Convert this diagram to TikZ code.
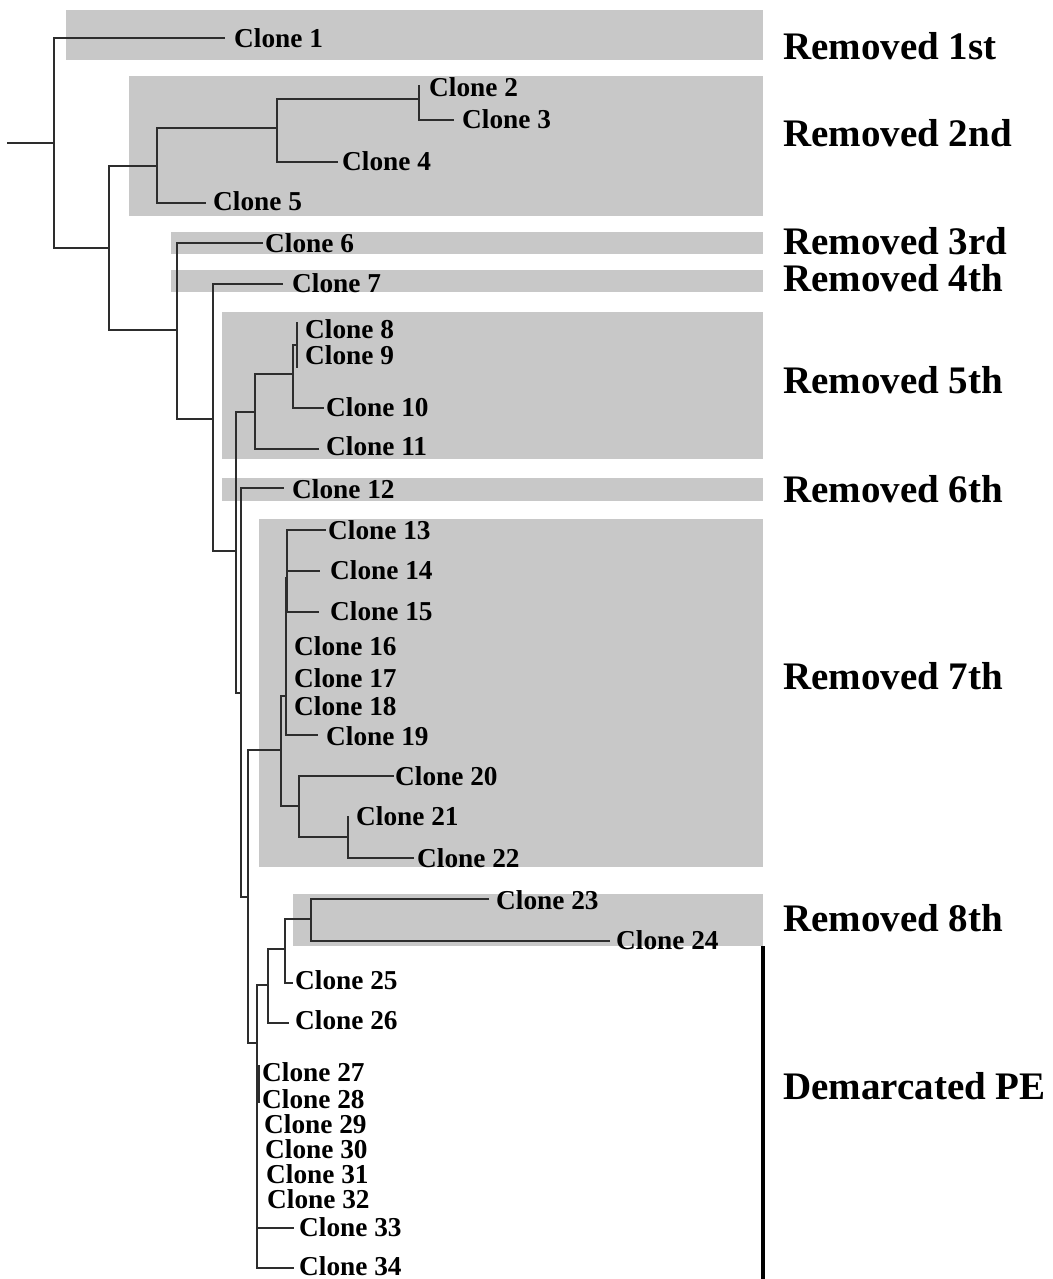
\documentclass[tikz,border=0pt]{standalone}
\usepackage{fontspec}
\setmainfont{Liberation Serif}
\definecolor{boxgray}{RGB}{200,200,200}
\definecolor{treeline}{RGB}{45,45,45}
\begin{document}
\begin{tikzpicture}[x=1pt,y=-1pt,
  tree/.style={line width=1.9pt, draw=treeline, line cap=rect},
  clone/.style={font=\fontsize{27.3}{30}\selectfont\bfseries, anchor=west, inner sep=0pt},
  rem/.style={font=\fontsize{39}{42}\selectfont\bfseries, anchor=west, inner sep=0pt},
  band/.style={fill=boxgray},
  pe/.style={line width=3.6pt, draw=black}]
\useasboundingbox (0,0) rectangle (1052,1279);
% shaded bands
\fill[band] (66,10) rectangle (763,60);
\fill[band] (129,76) rectangle (763,216);
\fill[band] (171,232) rectangle (763,254);
\fill[band] (171,270) rectangle (763,292);
\fill[band] (222,312) rectangle (763,459);
\fill[band] (222,478) rectangle (763,501);
\fill[band] (259,519) rectangle (763,867);
\fill[band] (293,894) rectangle (763,946);
% internal nodes
\coordinate (R) at (8,143);
\coordinate (N0) at (54,143);
\coordinate (N1) at (109,248);
\coordinate (N2) at (157,166);
\coordinate (N2a) at (277,128);
\coordinate (N2b) at (419,99);
\coordinate (N3) at (177,330);
\coordinate (N4) at (213,419);
\coordinate (N5) at (236,551);
\coordinate (N6) at (255,412);
\coordinate (N6a) at (293,374);
\coordinate (N6b) at (297,345);
\coordinate (N7) at (241,693);
\coordinate (N8) at (248,897);
\coordinate (N9) at (281,750);
\coordinate (NB) at (286,696);
\coordinate (NA) at (287,578);
\coordinate (ND) at (299,806);
\coordinate (NE) at (348,837);
\coordinate (N10) at (257,1043);
\coordinate (NC) at (259,1084);
\coordinate (N11) at (268,985);
\coordinate (N12) at (285,949);
\coordinate (N13) at (311,919);
% leaf tips
\coordinate (t1) at (224,38);
\coordinate (t2) at (419,86);
\coordinate (t3) at (453,120);
\coordinate (t4) at (337,162);
\coordinate (t5) at (205,203);
\coordinate (t6) at (262,243);
\coordinate (t7) at (282,284);
\coordinate (t8) at (297,323);
\coordinate (t9) at (297,367);
\coordinate (t10) at (323,408);
\coordinate (t11) at (318,449);
\coordinate (t12) at (283,488);
\coordinate (t13) at (325,530);
\coordinate (t14) at (319,571);
\coordinate (t15) at (318,612);
\coordinate (t16) at (286,646);
\coordinate (t19) at (317,735);
\coordinate (t20) at (393,776);
\coordinate (t21) at (348,817);
\coordinate (t22) at (413,858);
\coordinate (t23) at (488,899);
\coordinate (t24) at (609,941);
\coordinate (t25) at (292,983);
\coordinate (t26) at (288,1023);
\coordinate (t27) at (259,1066);
\coordinate (t28) at (259,1102);
\coordinate (t33) at (293,1228);
\coordinate (t34) at (293,1268);
% branches
\draw[tree] (R) -- (N0);
\draw[tree] (N0) |- (t1);
\draw[tree] (N0) |- (N1);
\draw[tree] (N1) |- (N2);
\draw[tree] (N1) |- (N3);
\draw[tree] (N2) |- (N2a);
\draw[tree] (N2) |- (t5);
\draw[tree] (N2a) |- (N2b);
\draw[tree] (N2a) |- (t4);
\draw[tree] (N2b) |- (t2);
\draw[tree] (N2b) |- (t3);
\draw[tree] (N3) |- (t6);
\draw[tree] (N3) |- (N4);
\draw[tree] (N4) |- (t7);
\draw[tree] (N4) |- (N5);
\draw[tree] (N5) |- (N6);
\draw[tree] (N5) |- (N7);
\draw[tree] (N6) |- (N6a);
\draw[tree] (N6) |- (t11);
\draw[tree] (N6a) |- (N6b);
\draw[tree] (N6a) |- (t10);
\draw[tree] (N6b) |- (t8);
\draw[tree] (N6b) |- (t9);
\draw[tree] (N7) |- (t12);
\draw[tree] (N7) |- (N8);
\draw[tree] (N8) |- (N9);
\draw[tree] (N8) |- (N10);
\draw[tree] (N9) |- (NB);
\draw[tree] (N9) |- (ND);
\draw[tree] (NB) |- (NA);
\draw[tree] (NB) |- (t16);
\draw[tree] (NB) |- (t19);
\draw[tree] (NA) |- (t13);
\draw[tree] (NA) |- (t14);
\draw[tree] (NA) |- (t15);
\draw[tree] (ND) |- (t20);
\draw[tree] (ND) |- (NE);
\draw[tree] (NE) |- (t21);
\draw[tree] (NE) |- (t22);
\draw[tree] (N10) |- (N11);
\draw[tree] (N10) |- (NC);
\draw[tree] (N10) |- (t33);
\draw[tree] (N10) |- (t34);
\draw[tree] (NC) |- (t27);
\draw[tree] (NC) |- (t28);
\draw[tree] (N11) |- (N12);
\draw[tree] (N11) |- (t26);
\draw[tree] (N12) |- (N13);
\draw[tree] (N12) |- (t25);
\draw[tree] (N13) |- (t23);
\draw[tree] (N13) |- (t24);
% demarcation bar
\coordinate (pe1) at (763,946);
\coordinate (pe2) at (763,1279);
\draw[pe] (pe1) -- (pe2);
% clone labels
\node[clone] (c1) at (234,38) {Clone 1};
\node[clone] (c2) at (429,87) {Clone 2};
\node[clone] (c3) at (462,119) {Clone 3};
\node[clone] (c4) at (342,161) {Clone 4};
\node[clone] (c5) at (213,201) {Clone 5};
\node[clone] (c6) at (265,243) {Clone 6};
\node[clone] (c7) at (292,283) {Clone 7};
\node[clone] (c8) at (305,329) {Clone 8};
\node[clone] (c9) at (305,355) {Clone 9};
\node[clone] (c10) at (326,407) {Clone 10};
\node[clone] (c11) at (326,446) {Clone 11};
\node[clone] (c12) at (292,489) {Clone 12};
\node[clone] (c13) at (328,530) {Clone 13};
\node[clone] (c14) at (330,570) {Clone 14};
\node[clone] (c15) at (330,611) {Clone 15};
\node[clone] (c16) at (294,646) {Clone 16};
\node[clone] (c17) at (294,678) {Clone 17};
\node[clone] (c18) at (294,706) {Clone 18};
\node[clone] (c19) at (326,736) {Clone 19};
\node[clone] (c20) at (395,776) {Clone 20};
\node[clone] (c21) at (356,816) {Clone 21};
\node[clone] (c22) at (417,858) {Clone 22};
\node[clone] (c23) at (496,900) {Clone 23};
\node[clone] (c24) at (616,940) {Clone 24};
\node[clone] (c25) at (295,980) {Clone 25};
\node[clone] (c26) at (295,1020) {Clone 26};
\node[clone] (c27) at (262,1072) {Clone 27};
\node[clone] (c28) at (262,1099) {Clone 28};
\node[clone] (c29) at (264,1124) {Clone 29};
\node[clone] (c30) at (265,1149) {Clone 30};
\node[clone] (c31) at (266,1174) {Clone 31};
\node[clone] (c32) at (267,1199) {Clone 32};
\node[clone] (c33) at (299,1227) {Clone 33};
\node[clone] (c34) at (299,1266) {Clone 34};
% removal labels
\node[rem] (r1) at (783,46) {Removed 1st};
\node[rem] (r2) at (783,133) {Removed 2nd};
\node[rem] (r3) at (783,241) {Removed 3rd};
\node[rem] (r4) at (783,278) {Removed 4th};
\node[rem] (r5) at (783,380) {Removed 5th};
\node[rem] (r6) at (783,489) {Removed 6th};
\node[rem] (r7) at (783,676) {Removed 7th};
\node[rem] (r8) at (783,918) {Removed 8th};
\node[rem] (r9) at (783,1086) {Demarcated PE};
\end{tikzpicture}
\end{document}
